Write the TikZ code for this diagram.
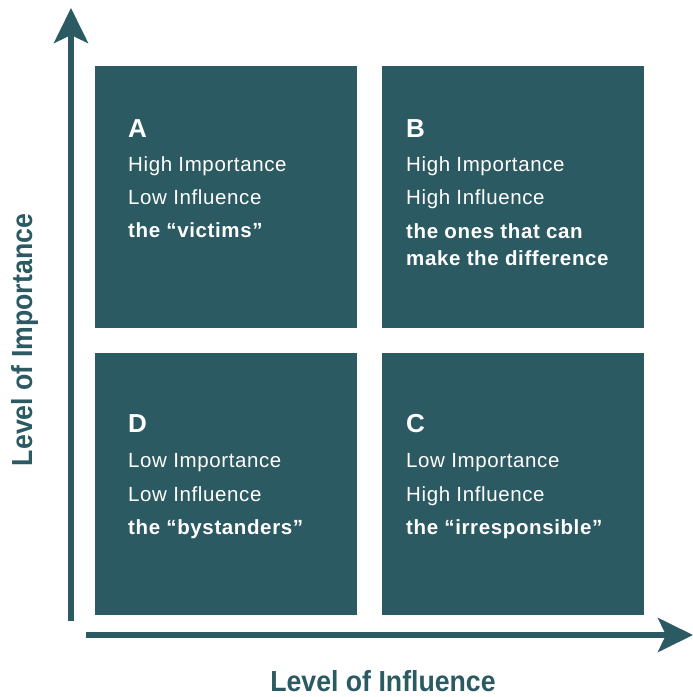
\documentclass[tikz,border=0pt]{standalone}
\usepackage{fontspec}
\setmainfont{Liberation Sans}
\newfontfamily\quadfont[LetterSpace=3]{Liberation Sans}
\newfontfamily\axisfont[FakeStretch=0.92]{Liberation Sans}
\usepackage{tikz}
\usetikzlibrary{arrows.meta, positioning}
\definecolor{quadteal}{HTML}{2C5A63}

\begin{document}
\begin{tikzpicture}[x=1pt, y=-1pt,
        quad/.style={fill=quadteal, minimum size=262pt, inner sep=0pt, outer sep=0pt},
        letter/.style={anchor=base west, inner sep=0pt, text=white, font=\quadfont\bfseries\fontsize{26}{30}\selectfont},
        body/.style={anchor=base west, inner sep=0pt, text=white, font=\quadfont\fontsize{20.5}{24}\selectfont},
        tag/.style={body, font=\quadfont\bfseries\fontsize{20.5}{24}\selectfont},
        axislabel/.style={anchor=base, inner sep=0pt, text=quadteal, font=\axisfont\bfseries\fontsize{29}{34}\selectfont},
        axis/.style={draw=quadteal, line width=5.5pt, -{Stealth[length=35pt, width=34pt, inset=8pt]}}]
        \useasboundingbox (0,0) rectangle (693,697);

        % quadrants
        \node[quad] (boxA) at (226,197)   {};
        \node[quad] (boxB) at (513,197)   {};
        \node[quad] (boxD) at (226,483.5) {};
        \node[quad] (boxC) at (513,483.5) {};

        % A
        \node[letter] (lblA) at (128,137) {A};
        \node[body]   (impA) at (128,171) {High Importance};
        \node[body]   (infA) at (128,204) {Low Influence};
        \node[tag]    (tagA) at (128,237) {the “victims”};

        % B
        \node[letter] (lblB)  at (406,137) {B};
        \node[body]   (impB)  at (406,171) {High Importance};
        \node[body]   (infB)  at (406,204) {High Influence};
        \node[tag]    (tagB)  at (406,238) {the ones that can};
        \node[tag]    (tagBb) at (406,265) {make the difference};

        % D
        \node[letter] (lblD) at (128,432) {D};
        \node[body]   (impD) at (128,467) {Low Importance};
        \node[body]   (infD) at (128,501) {Low Influence};
        \node[tag]    (tagD) at (128,534) {the “bystanders”};

        % C
        \node[letter] (lblC) at (406,432) {C};
        \node[body]   (impC) at (406,467) {Low Importance};
        \node[body]   (infC) at (406,501) {High Influence};
        \node[tag]    (tagC) at (406,534) {the “irresponsible”};

        % axes
        \coordinate (ytail) at (71,621);
        \coordinate (ytip)  at (71,8);
        \coordinate (xtail) at (86,635);
        \coordinate (xtip)  at (693,635);
        \draw[axis] (ytail) -- (ytip);
        \draw[axis] (xtail) -- (xtip);

        \node[axislabel] (xlabel) at (383,691.5) {Level of Influence};
        \node[axislabel, rotate=90] (ylabel) at (32,340) {Level of Importance};
    \end{tikzpicture}
\end{document}
